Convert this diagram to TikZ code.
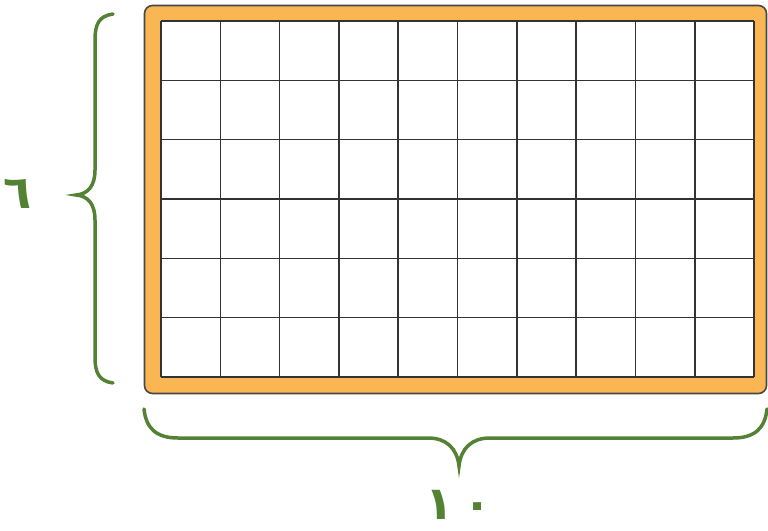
\documentclass[tikz,border=0pt]{standalone}
\usepackage{fontspec}
\newfontfamily\arabicfont[Script=Arabic]{DejaVu Sans}
\definecolor{frameorange}{HTML}{F9B652}
\definecolor{bracegreen}{HTML}{548235}
\definecolor{gridgray}{HTML}{333333}
\begin{document}
\begin{tikzpicture}[x=1pt,y=-1pt,
  bracestyle/.style={draw=bracegreen,line width=3.5pt,line cap=round},
  gridline/.style={draw=gridgray,line width=1.6pt},
  numlabel/.style={text=bracegreen,font=\arabicfont\bfseries\fontsize{46}{56}\selectfont,inner sep=0pt,anchor=base}]
\useasboundingbox (0,0) rectangle (768,530);
% frame
\draw[fill=frameorange,draw=gridgray!90,line width=1.6pt,rounded corners=8pt] (144.5,5.5) rectangle (766.5,393.5);
\fill[white] (161,21) rectangle (754,377);
% grid
\foreach \i in {0,...,10}{
  \draw[gridline] ({161+\i*59.3},21) -- ({161+\i*59.3},377);
}
\foreach \j in {0,...,6}{
  \draw[gridline] (161,{21+\j*59.33}) -- (754,{21+\j*59.33});
}
% left brace
\coordinate (lt) at (113,14);
\coordinate (lb) at (113,383);
\coordinate (ltip) at (76,195);
\draw[bracestyle] (lt) .. controls (99,16) and (95,24) .. (95,40)
  -- (95,170) .. controls (95,186) and (88,194) .. (ltip)
  .. controls (88,196) and (95,204) .. (95,220)
  -- (95,357) .. controls (95,373) and (99,381) .. (lb);
% bottom brace
\coordinate (bl) at (144,409);
\coordinate (br) at (767,409);
\coordinate (btip) at (459,466);
\draw[bracestyle] (bl) .. controls (146,428) and (156,438) .. (178,438)
  -- (428,438) .. controls (446,438) and (457,448) .. (btip)
  .. controls (461,448) and (472,438) .. (490,438)
  -- (733,438) .. controls (755,438) and (765,428) .. (br);
% labels
\node[numlabel] (six) at (18,208) {٦};
\node[numlabel] (ten) at (459,519) {١\kern10pt٠};
\end{tikzpicture}
\end{document}
